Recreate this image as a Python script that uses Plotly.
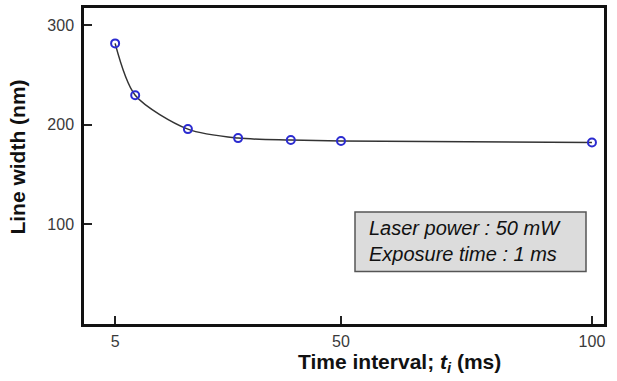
import plotly.graph_objects as go

time_interval = [5, 9, 19.5, 29.5, 40, 50, 100]
line_width = [281.5, 229.5, 195.5, 186.5, 184.5, 183.5, 182]
x_ticks = [5, 50, 100]
y_ticks = [100, 200, 300]

fig = go.Figure()
fig.add_trace(go.Scatter(
    x=time_interval, y=line_width, mode="lines",
    line=dict(color="#333333", width=1.5, shape="spline", smoothing=0.8),
    showlegend=False, hoverinfo="skip"))
fig.add_trace(go.Scatter(
    x=time_interval, y=line_width, mode="markers",
    marker=dict(symbol="circle-open", size=8, color="#2b2bd0", line=dict(width=2, color="#2b2bd0")),
    showlegend=False))

font = "Liberation Sans, Arial, sans-serif"
fig.update_layout(
    width=617, height=381,
    margin=dict(l=84, r=13, t=5, b=57),
    paper_bgcolor="white", plot_bgcolor="white",
    font=dict(family=font, color="#333333", size=16),
    xaxis=dict(range=[-1.2, 102.4], tickvals=x_ticks, ticks="inside", ticklen=8, tickwidth=1.5,
               tickcolor="#222", showline=True, linewidth=2.5, linecolor="#111", mirror=True,
               showgrid=False, zeroline=False, tickfont=dict(size=16, color="#3a3a3a"),
               ticklabelstandoff=1),
    yaxis=dict(range=[0, 317], tickvals=y_ticks, ticks="inside", ticklen=8, tickwidth=1.5,
               tickcolor="#222", showline=True, linewidth=2.5, linecolor="#111", mirror=True,
               showgrid=False, zeroline=False, tickfont=dict(size=16, color="#3a3a3a"),
               ticklabelstandoff=4),
)

# axis titles
fig.add_annotation(xref="paper", yref="paper", x=(399-84)/520, y=(324-363)/319,
                   xanchor="center", yanchor="middle", showarrow=False,
                   text="<b>Time interval; <i>t</i><sub><i>i</i></sub> (ms)</b>",
                   font=dict(size=21, color="#111", family=font))
fig.add_annotation(xref="paper", yref="paper", x=(18-84)/520, y=(324-156)/319,
                   xanchor="center", yanchor="middle", showarrow=False, textangle=-90,
                   text="<b>Line width (nm)</b>",
                   font=dict(size=21, color="#111", family=font))

fig.add_shape(type="rect", xref="paper", yref="paper",
              x0=(355-84)/520, x1=(586-84)/520, y0=(324-271)/319, y1=(324-211)/319,
              fillcolor="#dcdcdc", line=dict(color="#555555", width=1.5), layer="below")
fig.add_annotation(xref="paper", yref="paper", x=(367-84)/520, y=(324-240)/319,
                   xanchor="left", yanchor="middle", align="left", showarrow=False,
                   text="<i>Laser power : 50 mW</i><br><i>Exposure time : 1 ms</i>",
                   font=dict(size=20, color="#111", family=font))

fig.write_html("out.html", config={"displayModeBar": False},
               post_script="document.body.style.margin='0';document.body.style.padding='0';")
